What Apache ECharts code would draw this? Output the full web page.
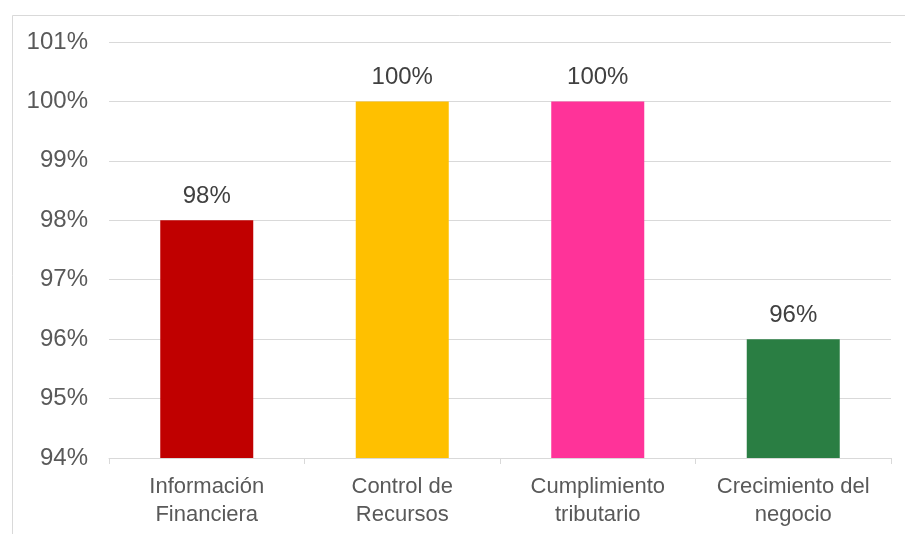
<!DOCTYPE html>
<html>
<head>
<meta charset="utf-8">
<script src="https://cdn.jsdelivr.net/npm/echarts@6/dist/echarts.min.js"></script>
<style>html,body{margin:0;padding:0;background:#fff;}#c{width:905px;height:534px;}</style>
</head>
<body>
<div id="c"></div>
<script>
const categories = ['Información\nFinanciera', 'Control de\nRecursos', 'Cumplimiento\ntributario', 'Crecimiento del\nnegocio'];
const values = [98, 100, 100, 96];
const colors = ['#C00000', '#FFC000', '#FF3399', '#2A7E43'];
const yMin = 94, yMax = 101, yStep = 1;

const chart = echarts.init(document.getElementById('c'), null, {renderer: 'canvas'});
chart.setOption({
  animation: false,
  backgroundColor: '#fff',
  graphic: [{
    type: 'rect', left: 10, top: 13, shape: {x: 0, y: 0, width: 1000, height: 1000},
    style: {fill: 'none', stroke: '#d9d9d9', lineWidth: 1}, silent: true, z: -1
  }],
  grid: {left: 109, right: 14, top: 42, bottom: 76, containLabel: false},
  xAxis: {
    type: 'category',
    data: categories,
    axisLine: {lineStyle: {color: '#d9d9d9', width: 1}},
    axisTick: {show: true, length: 6, lineStyle: {color: '#d9d9d9'}},
    axisLabel: {color: '#595959', fontSize: 22, fontFamily: 'Liberation Sans, Arial, sans-serif', lineHeight: 28, margin: 15, interval: 0}
  },
  yAxis: {
    type: 'value',
    min: yMin, max: yMax, interval: yStep,
    axisLine: {show: false},
    axisTick: {show: false},
    splitLine: {lineStyle: {color: '#d9d9d9', width: 1}},
    axisLabel: {formatter: '{value}%', color: '#595959', fontSize: 24, fontFamily: 'Liberation Sans, Arial, sans-serif', margin: 21}
  },
  series: [{
    type: 'bar',
    data: values.map((v, i) => ({value: v, itemStyle: {color: colors[i]}})),
    barWidth: 93,
    label: {show: true, position: 'top', distance: 12, formatter: '{c}%', color: '#404040', fontSize: 24, fontFamily: 'Liberation Sans, Arial, sans-serif'}
  }]
});
</script>
</body>
</html>
